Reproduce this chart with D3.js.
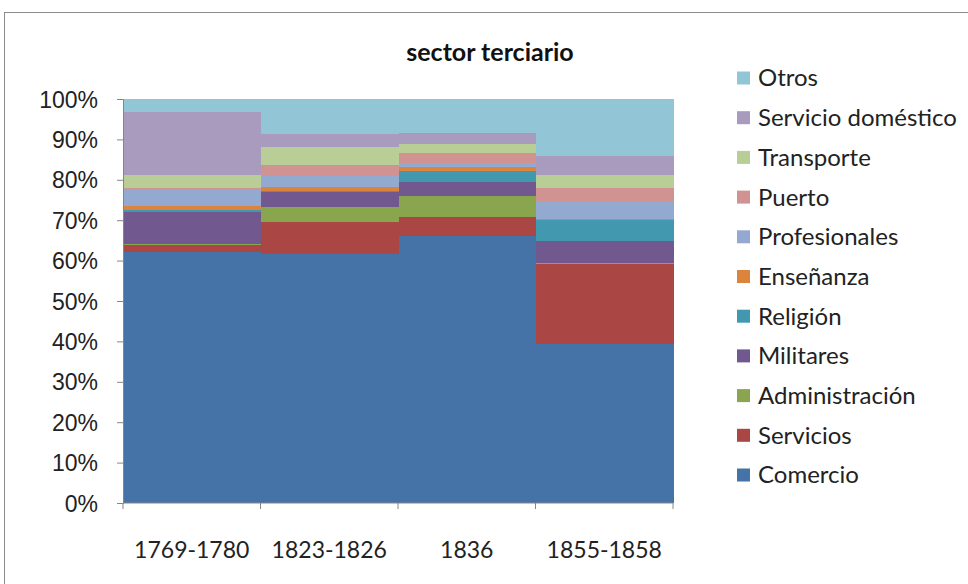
<!DOCTYPE html>
<html>
<head>
<meta charset="utf-8">
<script src="https://cdn.jsdelivr.net/npm/d3@7"></script>
<style>
  html, body { margin: 0; padding: 0; background: #fff; }
  svg { display: block; font-family: Lato, "Open Sans", sans-serif; }
</style>
</head>
<body>
<svg id="chart" width="968" height="584"></svg>
<script>
// Periods shown on the horizontal axis
const periods = ["1769-1780", "1823-1826", "1836", "1855-1858"];

// Share of each occupation group (percent of the tertiary sector), bottom to top
const comercio          = [62.0, 61.7, 66.2, 39.3];
const servicios         = [1.7, 7.8, 4.5, 19.9];
const administracion    = [0.4, 3.8, 5.4, 0.3];
const militares         = [7.8, 3.8, 3.3, 5.4];
const religion          = [0.5, 0.2, 2.7, 5.1];
const ensenanza         = [1.1, 0.8, 1.1, 0.3];
const profesionales     = [4.1, 2.8, 1.0, 4.5];
const puerto            = [0.3, 2.8, 2.4, 3.2];
const transporte        = [3.2, 4.5, 2.3, 3.2];
const servicioDomestico = [15.5, 3.1, 2.6, 4.8];
const otros             = [3.3, 8.7, 8.5, 14.0];

const seriesNames = ["Comercio", "Servicios", "Administración", "Militares", "Religión",
  "Enseñanza", "Profesionales", "Puerto", "Transporte", "Servicio doméstico", "Otros"];
const seriesValues = [comercio, servicios, administracion, militares, religion,
  ensenanza, profesionales, puerto, transporte, servicioDomestico, otros];
const seriesColors = ["#4572A7", "#AA4643", "#89A54E", "#71588F", "#4198AF",
  "#DB843D", "#93A9CF", "#D19392", "#B9CD96", "#A99BBD", "#92C5D6"];

const yTicks = [0, 0.1, 0.2, 0.3, 0.4, 0.5, 0.6, 0.7, 0.8, 0.9, 1.0];

// Build rows for d3.stack
const rows = periods.map((p, i) => {
  const r = { period: p };
  seriesNames.forEach((n, k) => { r[n] = seriesValues[k][i]; });
  return r;
});

const stack = d3.stack().keys(seriesNames).offset(d3.stackOffsetExpand);
const layers = stack(rows);

const svg = d3.select("#chart");
const plot = { left: 123, right: 673, top: 99, bottom: 503 };

// Outer frame
svg.append("rect")
  .attr("x", 4.5).attr("y", 12.5)
  .attr("width", 980).attr("height", 600)
  .attr("fill", "none").attr("stroke", "#8c8c8c").attr("stroke-width", 1);

const x = d3.scaleBand().domain(periods).range([plot.left, plot.right]).padding(0);
const y = d3.scaleLinear().domain([0, 1]).range([plot.bottom, plot.top]);
const color = d3.scaleOrdinal().domain(seriesNames).range(seriesColors);

// Stacked columns
svg.append("g")
  .attr("shape-rendering", "crispEdges")
  .selectAll("g")
  .data(layers)
  .join("g")
  .attr("fill", d => color(d.key))
  .selectAll("rect")
  .data(d => d)
  .join("rect")
  .attr("x", d => x(d.data.period))
  .attr("width", x.bandwidth() + 0.5)
  .attr("y", d => y(d[1]))
  .attr("height", d => y(d[0]) - y(d[1]));

// Vertical axis
const yAxis = d3.axisLeft(y)
  .tickValues(yTicks)
  .tickFormat(d3.format(".0%"))
  .tickSize(6)
  .tickPadding(19);
const gy = svg.append("g").attr("transform", `translate(${plot.left},0)`).call(yAxis);
gy.select(".domain").attr("stroke", "#868686");
gy.selectAll(".tick line").attr("stroke", "#868686");
gy.selectAll(".tick text")
  .attr("fill", "#222")
  .style("font-size", "23px")
  .attr("dy", "0.35em");

// Horizontal axis: ticks sit on the category boundaries
const gx = svg.append("g").attr("transform", `translate(0,${plot.bottom})`);
gx.append("line")
  .attr("x1", plot.left).attr("x2", plot.right)
  .attr("stroke", "#868686");
const boundaries = periods.map(p => x(p)).concat([x(periods[periods.length - 1]) + x.bandwidth()]);
gx.selectAll("line.tk")
  .data(boundaries)
  .join("line")
  .attr("class", "tk")
  .attr("x1", d => d).attr("x2", d => d)
  .attr("y1", 0).attr("y2", 6)
  .attr("stroke", "#868686");
gx.selectAll("text")
  .data(periods)
  .join("text")
  .attr("x", d => x(d) + x.bandwidth() / 2)
  .attr("y", 47)
  .attr("dy", "0.35em")
  .attr("text-anchor", "middle")
  .attr("fill", "#222")
  .style("font-size", "23px")
  .text(d => d);

// Title
svg.append("text")
  .attr("x", 490).attr("y", 52)
  .attr("dy", "0.35em")
  .attr("text-anchor", "middle")
  .attr("fill", "#111")
  .style("font-size", "25px")
  .style("font-weight", "bold")
  .text("sector terciario");

// Legend, top entry is the top of the stack
const legendNames = seriesNames.slice().reverse();
const legend = svg.append("g");
const lg = legend.selectAll("g")
  .data(legendNames)
  .join("g")
  .attr("transform", (d, i) => `translate(737,${78 + i * 39.7})`);
lg.append("rect")
  .attr("x", 0).attr("y", -6.5)
  .attr("width", 13).attr("height", 13)
  .attr("fill", d => color(d));
lg.append("text")
  .attr("x", 21).attr("y", 0)
  .attr("dy", "0.35em")
  .attr("fill", "#222")
  .style("font-size", "24px")
  .text(d => d);
</script>
</body>
</html>
